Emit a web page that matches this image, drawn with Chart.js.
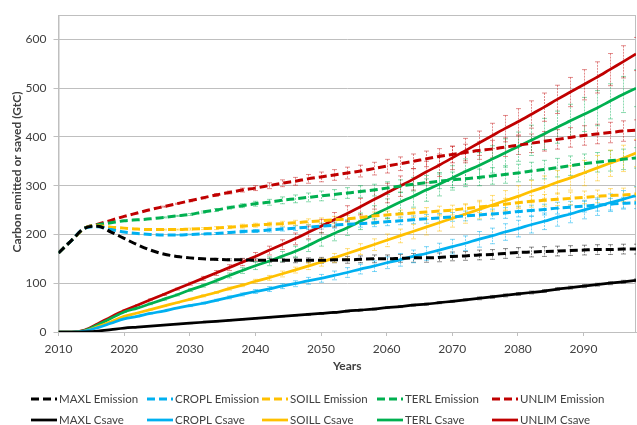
<!DOCTYPE html>
<html>
<head>
<meta charset="utf-8">
<script src="https://cdn.jsdelivr.net/npm/chart.js@4.4.0/dist/chart.umd.min.js"></script>
<style>
  html, body { margin: 0; padding: 0; background: #fff; }
</style>
</head>
<body>
<canvas id="chart" width="637" height="425"></canvas>
<script>
// years (every 2nd year, 2010-2098)
var years = [2010, 2012, 2014, 2016, 2018, 2020, 2022, 2024, 2026, 2028,
             2030, 2032, 2034, 2036, 2038, 2040, 2042, 2044, 2046, 2048,
             2050, 2052, 2054, 2056, 2058, 2060, 2062, 2064, 2066, 2068,
             2070, 2072, 2074, 2076, 2078, 2080, 2082, 2084, 2086, 2088,
             2090, 2092, 2094, 2096, 2098];
var xTicks = [2010, 2020, 2030, 2040, 2050, 2060, 2070, 2080, 2090];
var yTicks = [0, 100, 200, 300, 400, 500, 600];

// emissions (GtC)
var maxlEmission = [162, 188, 213, 217, 205, 192, 179, 168, 160, 155, 152, 150, 149, 148, 148, 147, 147, 147, 147, 147, 147, 148, 148, 149, 150, 150, 151, 152, 152, 153, 155, 156, 158, 159, 161, 163, 164, 165, 166, 167, 168, 169, 169, 170, 170];
var croplEmission = [162, 188, 213, 216, 210, 205, 202, 200, 199, 199, 200, 201, 202, 204, 206, 207, 209, 211, 213, 215, 217, 219, 221, 222, 224, 226, 228, 230, 232, 234, 236, 238, 240, 242, 244, 247, 249, 251, 254, 256, 258, 260, 262, 264, 265];
var soillEmission = [162, 188, 213, 218, 215, 213, 211, 210, 210, 210, 211, 212, 213, 215, 217, 219, 221, 222, 224, 226, 228, 230, 232, 235, 238, 240, 242, 244, 246, 248, 250, 253, 256, 259, 262, 265, 268, 270, 272, 274, 276, 278, 280, 281, 283];
var terlEmission = [162, 188, 213, 220, 224, 228, 230, 232, 235, 238, 241, 246, 250, 255, 259, 263, 266, 270, 273, 276, 279, 282, 285, 288, 291, 295, 299, 303, 306, 309, 312, 314, 317, 320, 323, 326, 330, 333, 337, 341, 345, 348, 351, 354, 357];
var unlimEmission = [162, 188, 213, 221, 229, 237, 244, 251, 257, 263, 269, 275, 281, 286, 291, 295, 300, 305, 309, 314, 318, 322, 326, 330, 335, 340, 345, 350, 355, 360, 364, 368, 372, 375, 379, 383, 387, 391, 395, 399, 403, 406, 409, 412, 414];

// carbon saved (GtC)
var maxlCsave = [0, 0, 0.5, 2, 5, 8, 10, 12, 14, 16, 18, 20, 22, 24, 26, 28, 30, 32, 34, 36, 38, 40, 43, 45, 47, 50, 52, 55, 57, 60, 63, 66, 69, 72, 75, 78, 81, 84, 88, 91, 94, 97, 100, 103, 106];
var croplCsave = [0, 0, 2, 9, 18, 27, 32, 38, 43, 49, 54, 59, 65, 71, 77, 83, 88, 94, 99, 105, 110, 116, 122, 129, 135, 142, 148, 155, 161, 168, 175, 182, 190, 197, 205, 212, 220, 227, 235, 242, 250, 257, 265, 272, 280];
var soillCsave = [0, 0, 2, 11, 21, 32, 39, 46, 53, 60, 67, 74, 81, 89, 96, 104, 111, 119, 127, 135, 143, 152, 161, 170, 179, 188, 197, 206, 215, 224, 233, 242, 251, 260, 269, 278, 288, 297, 307, 316, 326, 336, 346, 356, 367];
var terlCsave = [0, 0, 3, 15, 28, 41, 49, 58, 67, 76, 86, 95, 105, 116, 126, 136, 145, 155, 165, 177, 190, 202, 214, 227, 240, 253, 266, 278, 291, 303, 316, 329, 341, 354, 367, 380, 393, 406, 420, 433, 446, 459, 473, 487, 500];
var unlimCsave = [0, 0, 4, 17, 31, 44, 55, 66, 77, 88, 99, 110, 121, 132, 143, 155, 167, 179, 191, 204, 217, 230, 243, 257, 271, 285, 299, 313, 328, 342, 357, 372, 387, 402, 417, 431, 446, 461, 477, 492, 507, 522, 538, 554, 570];

// error bar half-widths
var maxlEmissionErr = [0, 0, 0, 0, 0, 0, 0, 0, 0, 1, 1, 1, 2, 2, 3, 3, 4, 4, 5, 5, 6, 6, 7, 7, 8, 8, 8, 9, 9, 9, 9, 9, 10, 10, 10, 10, 10, 10, 10, 10, 10, 10, 10, 10, 10];
var croplEmissionErr = [0, 0, 0, 0, 0, 0, 0, 0, 0, 1, 1, 1, 2, 2, 3, 3, 4, 4, 5, 5, 6, 6, 7, 7, 8, 8, 8, 8, 9, 9, 9, 10, 10, 10, 11, 11, 11, 11, 12, 12, 12, 12, 12, 12, 12];
var soillEmissionErr = [0, 0, 0, 0, 0, 0, 0, 0, 1, 1, 2, 2, 3, 3, 4, 4, 4, 5, 5, 6, 6, 7, 7, 7, 8, 8, 8, 9, 9, 10, 10, 10, 11, 11, 12, 12, 12, 12, 13, 13, 13, 13, 14, 14, 14];
var terlEmissionErr = [0, 0, 0, 0, 0, 0, 0, 0, 1, 1, 2, 2, 3, 3, 4, 5, 6, 7, 8, 9, 10, 10, 11, 12, 12, 13, 13, 14, 15, 15, 16, 16, 17, 17, 18, 18, 18, 19, 19, 20, 20, 20, 21, 21, 21];
var unlimEmissionErr = [0, 0, 0, 0, 0, 0, 0, 0, 1, 1, 2, 2, 3, 3, 4, 5, 6, 7, 8, 9, 10, 11, 12, 12, 13, 14, 14, 15, 16, 16, 17, 17, 18, 18, 19, 19, 19, 20, 20, 20, 20, 20, 21, 21, 21];
var maxlCsaveErr = [0, 0, 0, 0, 0, 0, 0, 0, 0, 1, 1, 1, 1, 1, 1, 1, 1, 1, 1, 2, 2, 2, 2, 2, 2, 2, 2, 2, 2, 2, 2, 2, 3, 3, 3, 3, 3, 3, 3, 3, 3, 3, 3, 3, 3];
var croplCsaveErr = [0, 0, 0, 0, 0, 0, 1, 1, 1, 1, 2, 2, 2, 3, 3, 4, 5, 5, 6, 7, 8, 9, 10, 10, 11, 12, 13, 13, 14, 14, 15, 15, 16, 16, 17, 17, 17, 17, 18, 18, 18, 18, 18, 18, 18];
var soillCsaveErr = [0, 0, 0, 0, 0, 0, 1, 1, 1, 1, 2, 2, 2, 3, 3, 4, 5, 6, 6, 7, 8, 9, 10, 11, 12, 13, 14, 15, 16, 17, 18, 19, 19, 20, 21, 22, 23, 23, 24, 25, 26, 26, 27, 27, 28];
var terlCsaveErr = [0, 0, 0, 0, 0, 1, 1, 2, 2, 2, 3, 3, 4, 5, 6, 8, 9, 10, 11, 12, 14, 15, 16, 17, 19, 20, 21, 22, 23, 24, 25, 26, 27, 28, 29, 30, 31, 32, 33, 34, 35, 36, 36, 37, 38];
var unlimCsaveErr = [0, 0, 0, 0, 0, 1, 1, 2, 2, 2, 3, 4, 5, 6, 7, 8, 9, 10, 12, 13, 14, 15, 16, 17, 19, 20, 21, 22, 22, 23, 24, 25, 25, 26, 27, 27, 28, 29, 29, 30, 31, 32, 33, 33, 34];

var scenarios = ['MAXL', 'CROPL', 'SOILL', 'TERL', 'UNLIM'];
var colors = ['#000000', '#00b0f0', '#ffc000', '#00b050', '#c00000'];
var errColors = ['rgba(0,0,0,0.45)', 'rgba(0,176,240,0.5)', 'rgba(255,192,0,0.5)', 'rgba(0,176,80,0.45)', 'rgba(192,0,0,0.45)'];
var emissionSeries = [maxlEmission, croplEmission, soillEmission, terlEmission, unlimEmission];
var emissionErrors = [maxlEmissionErr, croplEmissionErr, soillEmissionErr, terlEmissionErr, unlimEmissionErr];
var csaveSeries = [maxlCsave, croplCsave, soillCsave, terlCsave, unlimCsave];
var csaveErrors = [maxlCsaveErr, croplCsaveErr, soillCsaveErr, terlCsaveErr, unlimCsaveErr];

var FONT = 'Lato, "Open Sans", sans-serif';
var TEXT = '#404040';
var GRID = '#bfbfbf';

function toPoints(values) {
    return values.map(function (v, i) { return {x: years[i], y: v}; });
}

function buildDataset(label, values, errors, color, errColor, dashed) {
    return {
        label: label,
        data: toPoints(values),
        errors: errors,
        errColor: errColor,
        borderColor: color,
        backgroundColor: color,
        borderWidth: dashed ? 3 : 2.75,
        borderDash: dashed ? [8, 4] : [],
        pointRadius: 0,
        fill: false,
        cubicInterpolationMode: 'monotone'
    };
}

var datasets = [];
scenarios.forEach(function (name, i) {
    datasets.push(buildDataset(name + ' Emission', emissionSeries[i], emissionErrors[i], colors[i], errColors[i], true));
});
scenarios.forEach(function (name, i) {
    datasets.push(buildDataset(name + ' Csave', csaveSeries[i], csaveErrors[i], colors[i], errColors[i], false));
});

var errorBarPlugin = {
    id: 'errorBars',
    beforeDatasetsDraw: function (chart) {
        var ctx = chart.ctx, area = chart.chartArea;
        var xs = chart.scales.x, ys = chart.scales.y;
        ctx.save();
        ctx.beginPath();
        ctx.rect(area.left, area.top - 10, area.right - area.left, area.bottom - area.top + 10);
        ctx.clip();
        // plot frame
        ctx.strokeStyle = GRID;
        ctx.lineWidth = 1;
        ctx.strokeRect(area.left + 0.5, area.top + 0.5, area.right - area.left - 1, area.bottom - area.top);
        chart.data.datasets.forEach(function (ds) {
            ctx.strokeStyle = ds.errColor;
            ctx.lineWidth = 1;
            ds.data.forEach(function (p, i) {
                var e = ds.errors[i];
                if (!e) return;
                var x = Math.round(xs.getPixelForValue(p.x)) + 0.5;
                var y1 = ys.getPixelForValue(p.y + e);
                var y2 = ys.getPixelForValue(p.y - e);
                ctx.setLineDash([2, 1]);
                ctx.beginPath();
                ctx.moveTo(x, y1);
                ctx.lineTo(x, y2);
                ctx.stroke();
                ctx.setLineDash([]);
                ctx.beginPath();
                ctx.moveTo(x - 2.5, y1);
                ctx.lineTo(x + 2.5, y1);
                ctx.moveTo(x - 2.5, y2);
                ctx.lineTo(x + 2.5, y2);
                ctx.stroke();
            });
        });
        ctx.restore();
    }
};

var decorPlugin = {
    id: 'decor',
    afterDraw: function (chart) {
        var ctx = chart.ctx;
        ctx.save();
        // y axis title
        ctx.fillStyle = TEXT;
        ctx.font = 'bold 12px ' + FONT;
        ctx.textAlign = 'center';
        ctx.textBaseline = 'middle';
        ctx.translate(17, 172);
        ctx.rotate(-Math.PI / 2);
        ctx.fillText('Carbon emitted or saved (GtC)', 0, 0);
        ctx.restore();

        // legend, 5 columns x 2 rows
        var colX = [31, 147, 262, 377, 492];
        var rowY = [399, 420];
        ctx.save();
        ctx.font = '11.5px ' + FONT;
        ctx.textBaseline = 'middle';
        ctx.textAlign = 'left';
        chart.data.datasets.forEach(function (ds, i) {
            var x = colX[i % 5], y = rowY[Math.floor(i / 5)];
            ctx.strokeStyle = ds.borderColor;
            ctx.lineWidth = ds.borderWidth;
            ctx.setLineDash(ds.borderDash);
            ctx.beginPath();
            ctx.moveTo(x, y);
            ctx.lineTo(x + 26, y);
            ctx.stroke();
            ctx.setLineDash([]);
            ctx.fillStyle = TEXT;
            ctx.fillText(ds.label, x + 28, y + 0.5);
        });
        ctx.restore();
    }
};

new Chart(document.getElementById('chart'), {
    type: 'line',
    data: {datasets: datasets},
    options: {
        responsive: false,
        animation: false,
        layout: {padding: {top: 15, right: 1, bottom: 50, left: 0}},
        plugins: {legend: {display: false}, tooltip: {enabled: false}},
        scales: {
            x: {
                type: 'linear',
                min: 2010,
                max: 2098,
                afterBuildTicks: function (scale) {
                    scale.ticks = xTicks.map(function (v) { return {value: v}; });
                },
                afterFit: function (scale) { scale.height = 43; },
                grid: {drawOnChartArea: false, drawTicks: true, tickLength: 4, color: GRID},
                border: {color: GRID},
                ticks: {padding: 6, maxRotation: 0, color: TEXT, font: {family: FONT, size: 12},
                    callback: function (v) { return String(v); }},
                title: {display: true, text: 'Years', color: TEXT, padding: {top: 0, bottom: 2},
                    font: {family: FONT, size: 12, weight: 'bold'}}
            },
            y: {
                min: 0,
                max: 650,
                afterBuildTicks: function (scale) {
                    scale.ticks = yTicks.map(function (v) { return {value: v}; });
                },
                afterFit: function (scale) { scale.width = 58.5; },
                grid: {color: GRID, tickLength: 5},
                border: {color: GRID},
                ticks: {padding: 7, color: TEXT, font: {family: FONT, size: 12}}
            }
        }
    },
    plugins: [errorBarPlugin, decorPlugin]
});
</script>
</body>
</html>
